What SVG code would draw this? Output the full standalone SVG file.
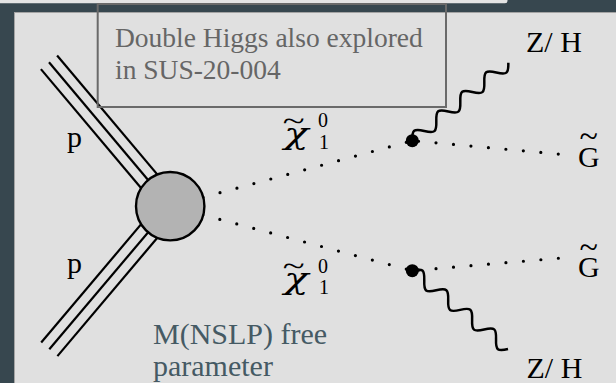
<svg xmlns="http://www.w3.org/2000/svg" xmlns:xlink="http://www.w3.org/1999/xlink" width="616" height="383" viewBox="0 0 616 383">
<style>
.lbl{font-family:"Liberation Serif",serif;font-size:30px;fill:#000;font-style:normal}
.sm{font-size:20px;font-style:normal}
.chi{font-family:"DejaVu Serif",serif;font-style:italic;font-size:30px;fill:#000}
.til{font-family:"Liberation Serif",serif;font-style:normal;fill:#000}
.note{font-family:"Liberation Serif",serif;font-size:27.5px;fill:#666}
.param{font-family:"Liberation Serif",serif;font-size:30px;fill:#455a64}
.prot{stroke:#000;stroke-width:2.2;fill:none}
.dots{stroke:#000;stroke-width:3.2;stroke-linecap:round;stroke-dasharray:0 17.54;stroke-dashoffset:11.28;fill:none}
.wave{stroke:#000;stroke-width:2.5;fill:none}
.vtx{fill:#000}
</style>
<defs>
<path id="wv" class="wave" d="M0,0 c2.585,-3.413 4.948,-6.5 7.731,-6.5 s5.147,3.087 7.732,6.5 s4.948,6.5 7.731,6.5 s5.147,-3.087 7.731,-6.5 s4.948,-6.5 7.731,-6.5 s5.147,3.087 7.732,6.5 s4.948,6.5 7.731,6.5 s5.147,-3.087 7.731,-6.5 s4.948,-6.5 7.731,-6.5 s5.147,3.087 7.732,6.5 s4.948,6.5 7.731,6.5 s5.147,-3.087 7.731,-6.5 s4.948,-6.5 7.731,-6.5 s5.147,3.087 7.732,6.5 s4.948,6.5 7.731,6.5 s5.147,-3.087 7.731,-6.5"/>
</defs>
<g id="background">
<rect width="616" height="383" fill="#37474f"/>
<path d="M0,0 H507.5 V1 Q507.5,3.2 505,3.2 H0 Z" fill="#e4e4e4"/>
<rect x="14.5" y="12.5" width="602" height="371" fill="#e0e0e0" stroke="#a4a4a4" stroke-width="1"/>
</g>
<g id="connectors">
<line class="prot" x1="40.9" y1="69.1" x2="162.1" y2="213.0"/>
<line class="prot" x1="49" y1="62.3" x2="170.2" y2="206.2"/>
<line class="prot" x1="57.1" y1="55.5" x2="178.3" y2="199.4"/>
<line class="prot" x1="41.2" y1="342.5" x2="162.1" y2="199.4"/>
<line class="prot" x1="49.3" y1="349.3" x2="170.2" y2="206.2"/>
<line class="prot" x1="57.4" y1="356.1" x2="178.3" y2="213.0"/>
<path class="dots" d="M412.3,140.7 L170.2,206.2"/>
<path class="dots" d="M412.3,270.7 L170.2,206.2"/>
<path class="dots" d="M412.3,140.7 L559,154.1"/>
<path class="dots" d="M412.3,270.7 L559,258.2"/>
<use xlink:href="#wv" href="#wv" transform="translate(412.3,140.7) rotate(-39.09)"/>
<use xlink:href="#wv" href="#wv" transform="translate(412.3,270.7) rotate(39.31)"/>
</g>
<g id="blob"><circle cx="170.2" cy="206.2" r="34.2" fill="#b3b3b3" stroke="#000" stroke-width="2.4"/></g>
<g id="vertex-top"><circle class="vtx" cx="412.3" cy="140.7" r="6.5"/></g>
<g id="vertex-bottom"><circle class="vtx" cx="412.3" cy="270.7" r="6.5"/></g>
<g id="label-p-top"><text class="lbl" x="67" y="146.5">p</text></g>
<g id="label-p-bottom"><text class="lbl" x="67" y="272.5">p</text></g>
<g id="label-chi-top">
<text class="chi" transform="translate(284,143.5) scale(1.35,1)">χ<tspan class="til" x="-1" y="-12.5" font-size="30">~</tspan></text>
<text class="lbl sm" x="318" y="126.5">0</text>
<text class="lbl sm" x="319" y="149.3">1</text>
</g>
<g id="label-chi-bottom">
<text class="chi" transform="translate(284,288.5) scale(1.35,1)">χ<tspan class="til" x="-1" y="-12.5" font-size="30">~</tspan></text>
<text class="lbl sm" x="318" y="273">0</text>
<text class="lbl sm" x="319" y="293.5">1</text>
</g>
<g id="label-G-top"><text class="lbl" x="578" y="166.5">G<tspan class="til" x="579.5" y="147" font-size="34">~</tspan></text></g>
<g id="label-G-bottom"><text class="lbl" x="578" y="277">G<tspan class="til" x="579.5" y="257.5" font-size="34">~</tspan></text></g>
<g id="label-ZH-top"><text class="lbl" x="526" y="52">Z/ H</text></g>
<g id="label-ZH-bottom"><text class="lbl" x="526.5" y="378">Z/ H</text></g>
<g id="note">
<rect x="97.7" y="4" width="348.3" height="103" fill="none" stroke="#6a6a6a" stroke-width="2"/>
<text class="note" x="115" y="46.5">Double Higgs also explored</text>
<text class="note" x="115" y="79">in SUS-20-004</text>
</g>
<g id="param-note">
<text class="param" x="153" y="344">M(NSLP) free</text>
<text class="param" x="153" y="376">parameter</text>
</g>
</svg>
